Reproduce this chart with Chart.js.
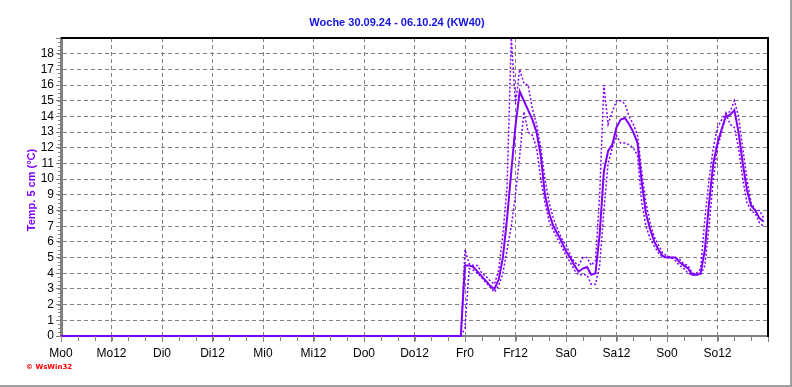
<!DOCTYPE html>
<html>
<head>
<meta charset="utf-8">
<script src="https://cdn.jsdelivr.net/npm/chart.js@4"></script>
<style>
  body { margin: 0; background: #ffffff; }
  #box { width: 792px; height: 387px; position: relative; }
</style>
</head>
<body>
<div id="box"><canvas id="myChart" width="792" height="387"></canvas></div>
<script>
// Dati: ore dall'inizio della settimana (Mo0 = 0)
const stunden = [0, 95, 96, 97, 98, 99, 100, 101, 102, 103, 104, 105, 106, 107, 108, 109, 110, 111, 112, 113, 114,
  115, 116, 117, 118, 119, 120, 121, 122, 123, 124, 125, 126, 127, 128, 129, 130, 131, 132, 133, 134, 135, 136,
  137, 138, 139, 140, 141, 142, 143, 144, 145, 146, 147, 148, 149, 150, 151, 152, 153, 154, 155, 156, 157, 158,
  159, 160, 161, 162, 163, 164, 165, 166, 167];

// media (linea continua)
const tMittel = [0, 0, 4.5, 4.5, 4.4, 4.1, 3.8, 3.5, 3.2, 3.0, 3.6, 5.0, 7.5, 10.5, 13.4, 15.6, 15.0, 14.4, 13.8, 13.0, 11.5,
  9.0, 7.8, 7.0, 6.5, 6.0, 5.4, 5.0, 4.5, 4.1, 4.3, 4.4, 3.9, 4.0, 6.5, 10.5, 11.8, 12.2, 13.3, 13.8, 13.9, 13.5, 13.0,
  12.3, 9.8, 7.8, 6.8, 6.0, 5.5, 5.1, 5.0, 5.0, 5.0, 4.7, 4.5, 4.3, 3.9, 3.9, 4.0, 5.5, 8.5, 11.0, 12.3, 13.2, 14.0,
  14.1, 14.4, 13.0, 11.0, 9.3, 8.3, 8.0, 7.5, 7.3];

// massimo (puntinato)
const tMax = [0, 0, 5.5, 4.6, 4.5, 4.5, 4.0, 3.8, 3.5, 3.3, 4.2, 6.5, 9.5, 19.0, 14.8, 17.0, 16.1, 16.0, 14.5, 13.5, 12.0,
  10.0, 8.5, 7.5, 6.8, 6.2, 5.8, 5.2, 4.7, 4.5, 5.0, 5.0, 4.5, 4.8, 9.0, 16.0, 13.5, 14.3, 15.0, 15.0, 14.8, 14.0, 13.5,
  12.8, 10.5, 8.5, 7.2, 6.3, 5.8, 5.3, 5.1, 5.0, 5.0, 4.9, 4.6, 4.5, 4.0, 4.0, 4.3, 7.5, 10.0, 12.0, 13.3, 13.8, 14.2,
  14.3, 15.0, 14.0, 12.0, 10.0, 8.5, 8.0, 8.0, 7.5];

// minimo (puntinato)
const tMin = [0, 0, 0.5, 4.3, 4.2, 4.0, 3.7, 3.4, 3.1, 2.8, 3.2, 4.0, 5.5, 7.0, 9.0, 11.5, 14.3, 13.0, 12.8, 12.0, 10.0,
  8.5, 7.3, 6.7, 6.2, 5.7, 5.1, 4.7, 4.2, 3.9, 3.9, 3.9, 3.3, 3.3, 4.5, 8.0, 11.0, 12.0, 12.8, 12.3, 12.3, 12.2, 12.0,
  11.5, 8.5, 7.0, 6.2, 5.7, 5.3, 5.0, 5.0, 5.0, 4.8, 4.5, 4.3, 4.0, 3.9, 3.9, 3.9, 4.5, 7.0, 10.0, 12.0, 13.0, 14.2,
  13.5, 13.3, 12.0, 10.0, 8.5, 8.0, 7.8, 7.2, 7.0];

const xTickLabels = ['Mo0', 'Mo12', 'Di0', 'Di12', 'Mi0', 'Mi12', 'Do0', 'Do12', 'Fr0', 'Fr12', 'Sa0', 'Sa12', 'So0', 'So12'];

const titolo = 'Woche 30.09.24 - 06.10.24 (KW40)';
const titoloY = 'Temp. 5 cm (°C)';

const viola = '#8000ff';
const grigio = '#808080';

function punti(valori) {
  return stunden.map((h, i) => ({ x: h, y: valori[i] }));
}

// disegna titolo, cornice, tacche secondarie
const extraPlugin = {
  id: 'extra',
  afterDraw(chart) {
    const ctx = chart.ctx;
    const a = chart.chartArea;
    const xs = chart.scales.x;
    const ys = chart.scales.y;
    ctx.save();

    // tacche secondarie asse x ogni 4 ore
    ctx.strokeStyle = grigio;
    ctx.lineWidth = 1;
    for (let h = 0; h <= 168; h += 4) {
      const px = Math.round(xs.getPixelForValue(h)) + 0.5;
      ctx.beginPath();
      ctx.moveTo(px, a.bottom);
      ctx.lineTo(px, a.bottom + 5);
      ctx.stroke();
    }
    // tacche secondarie asse y
    for (let v = 0; v <= 19; v += 0.25) {
      const py = Math.round(ys.getPixelForValue(v)) + 0.5;
      ctx.beginPath();
      ctx.moveTo(a.left - 3, py);
      ctx.lineTo(a.left, py);
      ctx.stroke();
    }

    // bordo superiore e destro neri
    ctx.strokeStyle = '#000000';
    ctx.lineWidth = 2;
    ctx.beginPath();
    ctx.moveTo(a.left, a.top);
    ctx.lineTo(a.right, a.top);
    ctx.lineTo(a.right, a.bottom + 1);
    ctx.stroke();

    // cornice esterna
    ctx.strokeStyle = '#a0a0a0';
    ctx.lineWidth = 2;
    ctx.beginPath();
    ctx.moveTo(0, 386);
    ctx.lineTo(791, 386);
    ctx.lineTo(791, 0);
    ctx.stroke();

    // titolo
    ctx.fillStyle = '#1414e6';
    ctx.font = 'bold 11px "Liberation Sans", Arial, sans-serif';
    ctx.textAlign = 'center';
    ctx.textBaseline = 'middle';
    ctx.fillText(titolo, 397, 23);

    // titolo asse y
    ctx.save();
    ctx.translate(32, 190);
    ctx.rotate(-Math.PI / 2);
    ctx.fillStyle = viola;
    ctx.font = 'bold 11px "Liberation Sans", Arial, sans-serif';
    ctx.fillText(titoloY, 0, 0);
    ctx.restore();

    // copyright
    ctx.fillStyle = '#ff0000';
    ctx.font = 'bold 7px "DejaVu Sans", sans-serif';
    ctx.textAlign = 'left';
    ctx.fillText('\u00a9 WsWin32', 26, 367);

    ctx.restore();
  }
};

const taglio = { left: 2, right: 2, top: 0, bottom: 3 };

const ctx = document.getElementById('myChart').getContext('2d');
const chart = new Chart(ctx, {
  type: 'line',
  data: {
    datasets: [
      {
        label: 'Max',
        data: punti(tMax),
        borderColor: viola,
        borderWidth: 1.5,
        borderDash: [2, 2],
        pointRadius: 0,
        tension: 0,
        fill: false,
        clip: taglio
      },
      {
        label: 'Min',
        data: punti(tMin),
        borderColor: viola,
        borderWidth: 1.5,
        borderDash: [2, 2],
        pointRadius: 0,
        tension: 0,
        fill: false,
        clip: taglio
      },
      {
        label: 'Mittel',
        data: punti(tMittel),
        borderColor: viola,
        borderWidth: 2,
        pointRadius: 0,
        tension: 0,
        fill: false,
        clip: taglio
      }
    ]
  },
  options: {
    responsive: false,
    animation: false,
    devicePixelRatio: 1,
    layout: { padding: { left: 0, right: 24, top: 38, bottom: 0 } },
    plugins: {
      legend: { display: false },
      tooltip: { enabled: false }
    },
    scales: {
      x: {
        type: 'linear',
        min: 0,
        max: 168,
        afterFit(scale) { scale.height = 51; },
        ticks: {
          stepSize: 12,
          autoSkip: false,
          maxRotation: 0,
          color: '#000000',
          padding: 4,
          font: { family: '"Liberation Sans", Arial, sans-serif', size: 12 },
          callback: (v) => xTickLabels[v / 12] ?? ''
        },
        grid: {
          color: grigio,
          tickLength: 6,
          tickColor: grigio,
          tickBorderDash: []
        },
        border: { display: true, color: grigio, width: 2, dash: [4, 3] }
      },
      y: {
        min: 0,
        max: 19,
        afterFit(scale) { scale.width = 61; },
        ticks: {
          stepSize: 1,
          autoSkip: false,
          color: '#000000',
          padding: 2,
          font: { family: '"Liberation Sans", Arial, sans-serif', size: 12 },
          callback: (v) => (v < 19 ? v : '')
        },
        grid: {
          color: grigio,
          tickLength: 5,
          tickColor: grigio,
          tickBorderDash: []
        },
        border: { display: true, color: grigio, width: 3, dash: [4, 3] }
      }
    }
  },
  plugins: [extraPlugin]
});
</script>
</body>
</html>
